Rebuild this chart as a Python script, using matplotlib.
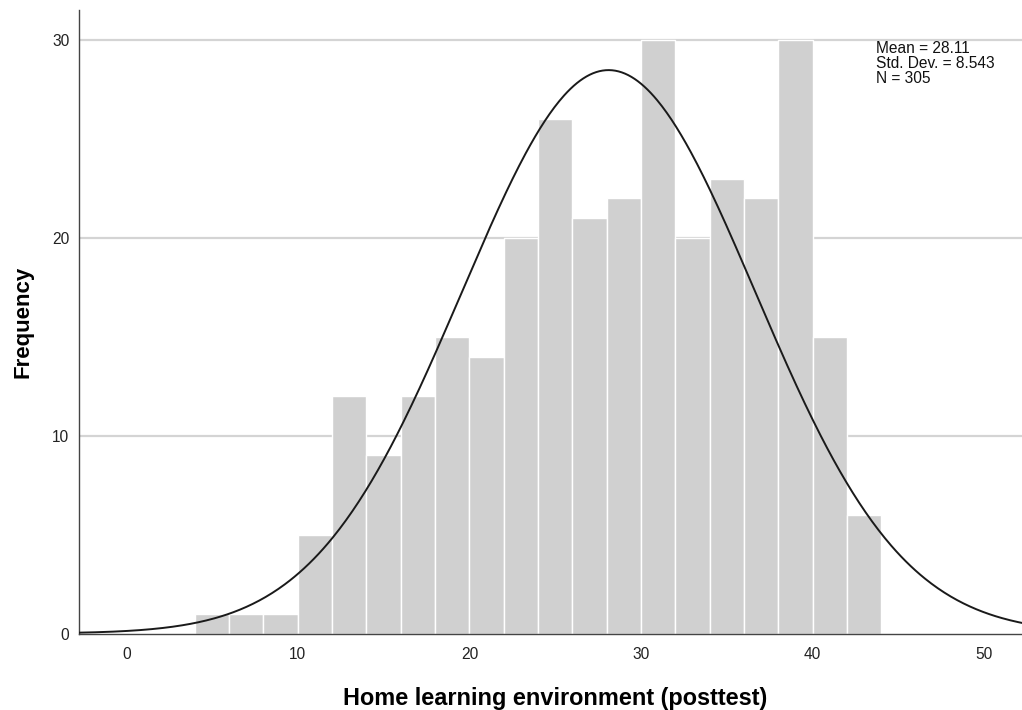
import numpy as np
import matplotlib
matplotlib.use("Agg")
import matplotlib.pyplot as plt

# Data
bin_edges = [4, 6, 8, 10, 12, 14, 16, 18, 20, 22, 24, 26, 28, 30, 32, 34, 36, 38, 40, 42, 44]
counts = [1, 1, 1, 5, 12, 9, 12, 15, 14, 20, 26, 21, 22, 30, 20, 23, 22, 30, 15, 6]
mean = 28.11
std_dev = 8.543
n_obs = 305
x_ticks = [0, 10, 20, 30, 40, 50]
y_ticks = [0, 10, 20, 30]

plt.rcParams['font.family'] = ['Liberation Sans', 'DejaVu Sans']

fig = plt.figure(figsize=(10.22, 7.10), dpi=100)
ax = fig.add_axes([79/1022, 1 - 633.5/710, (1022 - 79)/1022, (633.5 - 9.5)/710])

# grid
for yv in y_ticks[1:]:
    ax.axhline(yv, color='#d4d4d4', lw=1.6, zorder=0)

left = np.array(bin_edges[:-1])
widths = np.diff(bin_edges)
ax.bar(left, counts, width=widths, align='edge', color='#d0d0d0',
       edgecolor='white', linewidth=1.0, zorder=2)

# normal curve
bw = widths[0]
xs = np.linspace(-3, 53, 600)
ys = n_obs * bw / (std_dev * np.sqrt(2 * np.pi)) * np.exp(-0.5 * ((xs - mean) / std_dev) ** 2)
ax.plot(xs, ys, color='#1a1a1a', lw=1.4, zorder=3)

ax.set_xlim(-2.75, 52.2)
ax.set_ylim(0, 31.55)
ax.set_xticks(x_ticks)
ax.set_yticks(y_ticks)
ax.tick_params(axis='both', length=0, labelsize=11.2, colors='#222222')
ax.tick_params(axis='x', pad=10)
ax.tick_params(axis='y', pad=7)

for s in ['top', 'right']:
    ax.spines[s].set_visible(False)
for s in ['left', 'bottom']:
    ax.spines[s].set_color('#444444')
    ax.spines[s].set_linewidth(1.0)

ax.set_xlabel('Home learning environment (posttest)', fontsize=16.9, fontweight='bold', labelpad=17)
ax.xaxis.set_label_coords(0.505, -0.085)
ax.set_ylabel('Frequency', fontsize=16, fontweight='bold', labelpad=13)

ax.text(876/1022, 1 - 41/710, f"Mean = {mean}\nStd. Dev. = {std_dev}\nN = {n_obs}",
        transform=fig.transFigure, fontsize=11.2, va='top', ha='left',
        linespacing=1.0, color='#111111')

fig.savefig('out.png', dpi=100)
